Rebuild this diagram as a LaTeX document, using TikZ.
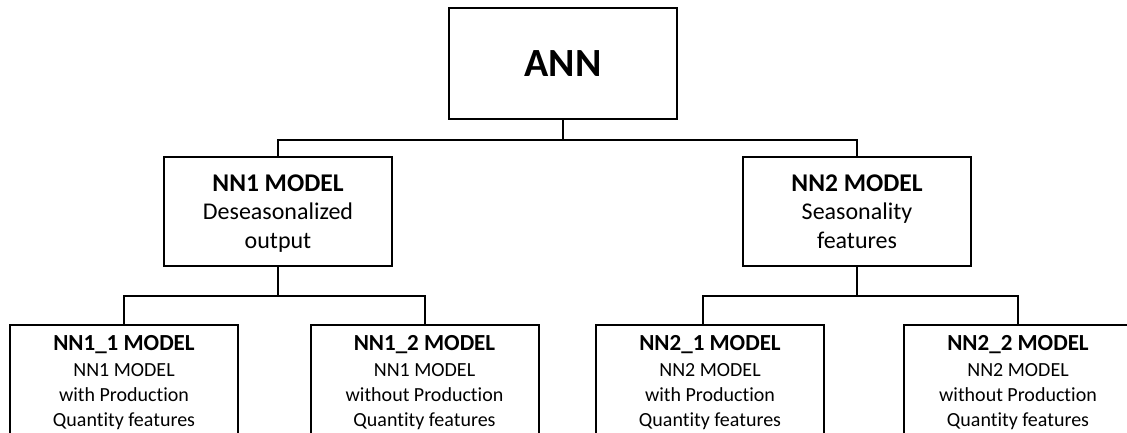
\documentclass[tikz,border=0pt]{standalone}
\usepackage{fontspec}
\setmainfont{Carlito}[Ligatures=NoCommon]

\tikzset{
  box/.style={draw, line width=2pt, minimum width=228pt, align=center, inner sep=0pt, text depth=0pt},
  topbox/.style={box, minimum height=111pt, font=\bfseries\fontsize{40}{48}\selectfont},
  midbox/.style={box, minimum height=109pt, font=\fontsize{24}{28.5}\selectfont},
  leafbox/.style={box, minimum height=112pt, font=\fontsize{20}{25}\selectfont},
  conn/.style={line width=2pt}
}
\newcommand{\midhead}[1]{{\bfseries\fontsize{25.5}{28.5}\selectfont #1}}
\newcommand{\leafhead}[1]{{\bfseries\fontsize{23}{25}\selectfont #1}\\[1.5pt]}

\begin{document}
\begin{tikzpicture}[x=1pt, y=-1pt]
	\fill[white] (0,0) rectangle (1127,433);
	\useasboundingbox (0,0) rectangle (1127,433);
	\clip (0,0) rectangle (1127,433);

	% Raiz
	\node[topbox] (ann) at (563,63.5) {ANN};

	% Segundo nivel
	\node[midbox] (nn1) at (278,211.5) {\midhead{NN1 MODEL}\\ Deseasonalized\\ output};
	\node[midbox] (nn2) at (857,211.5) {\midhead{NN2 MODEL}\\ Seasonality\\ features};

	% Hojas
	\node[leafbox] (nn11) at (124,381) {\leafhead{NN1\_1 MODEL} NN1 MODEL\\ with Production\\ Quantity features};
	\node[leafbox] (nn12) at (424.5,381) {\leafhead{NN1\_2 MODEL} NN1 MODEL\\ without Production\\ Quantity features};
	\node[leafbox] (nn21) at (710,381) {\leafhead{NN2\_1 MODEL} NN2 MODEL\\ with Production\\ Quantity features};
	\node[leafbox] (nn22) at (1018,381) {\leafhead{NN2\_2 MODEL} NN2 MODEL\\ without Production\\ Quantity features};

	% Conexiones
	\draw[conn] (ann.south) -- ++(0,20) coordinate (annbus);
	\draw[conn] (nn1.north) |- (annbus) -| (nn2.north);

	\draw[conn] (nn1.south) -- ++(0,29) coordinate (nn1bus);
	\draw[conn] (nn11.north) |- (nn1bus) -| (nn12.north);

	\draw[conn] (nn2.south) -- ++(0,29) coordinate (nn2bus);
	\draw[conn] ([xshift=-7pt]nn21.north) |- (nn2bus) -| (nn22.north);
\end{tikzpicture}
\end{document}
